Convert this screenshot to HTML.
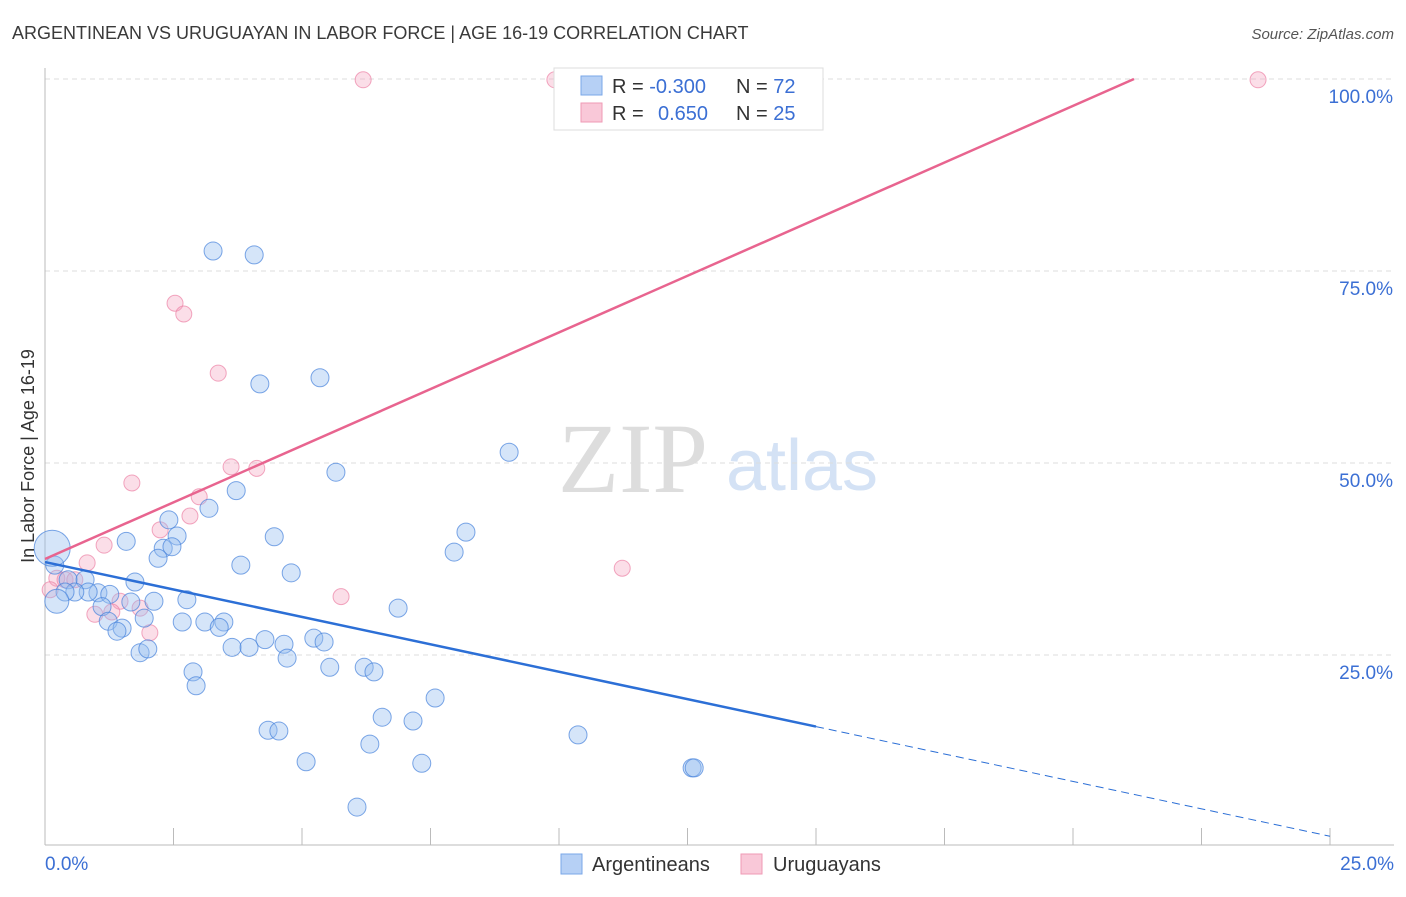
<!DOCTYPE html>
<html><head><meta charset="utf-8"><style>
body{margin:0;background:#fff;font-family:"Liberation Sans",sans-serif;}
svg text{font-family:"Liberation Sans",sans-serif;}
</style></head><body>
<svg id="chart" width="1406" height="892">
<text x="12" y="39" font-size="18" fill="#3a3a3a">ARGENTINEAN VS URUGUAYAN IN LABOR FORCE | AGE 16-19 CORRELATION CHART</text>
<text x="1394" y="39" font-size="15" fill="#555" font-style="italic" text-anchor="end">Source: ZipAtlas.com</text>
<g>
<text x="633" y="492" font-size="100" fill="#ddd" text-anchor="middle" style="font-family:'Liberation Serif',serif">ZIP</text>
<text x="802" y="490" font-size="72" fill="#d4e2f5" text-anchor="middle">atlas</text>
</g>
<g id="grid"></g>
<g id="axes"></g>
<g id="marks"></g>
<text transform="translate(34,456) rotate(-90)" font-size="18" fill="#333" text-anchor="middle">In Labor Force | Age 16-19</text>
<g>
<rect x="554" y="68" width="269" height="62" fill="#fff" stroke="#ddd"/>
<rect x="581" y="76" width="21" height="19" fill="#b6d0f5" stroke="#7aa7e8"/>
<rect x="581" y="103" width="21" height="19" fill="#f9c8d8" stroke="#ef9ab5"/>
<text x="612" y="93" font-size="20" fill="#333">R = <tspan fill="#3b6fd4">-0.300</tspan></text>
<text x="736" y="93" font-size="20" fill="#333">N = <tspan fill="#3b6fd4">72</tspan></text>
<text x="612" y="120" font-size="20" fill="#333">R = <tspan fill="#3b6fd4" x="658">0.650</tspan></text>
<text x="736" y="120" font-size="20" fill="#333">N = <tspan fill="#3b6fd4">25</tspan></text>
</g>
<g>
<rect x="561" y="854" width="21" height="20" fill="#b6d0f5" stroke="#7aa7e8"/>
<text x="592" y="871" font-size="20" fill="#333">Argentineans</text>
<rect x="741" y="854" width="21" height="20" fill="#f9c8d8" stroke="#ef9ab5"/>
<text x="773" y="871" font-size="20" fill="#333">Uruguayans</text>
</g>
</svg>
<script>
const blueX=[3.27,4.07,4.18,5.35,5.66,9.03,3.72,3.19,2.41,1.58,2.57,2.30,2.47,2.20,4.46,8.19,7.96,3.81,4.79,1.75,0.19,0.45,0.78,1.03,1.26,0.84,0.58,0.39,1.11,1.67,2.12,2.76,0.23,1.23,1.93,1.50,1.40,2.67,3.11,3.48,3.39,6.87,4.28,4.65,5.23,5.43,3.64,3.97,1.85,2.00,4.71,2.88,2.94,5.54,6.21,6.40,7.59,6.56,7.16,4.34,4.55,10.37,6.32,5.08,7.33,12.59,12.63,6.07,0.14];
const blueY=[77.6,77.1,60.3,61.1,48.8,51.4,46.4,44.1,42.6,39.8,40.5,38.9,39.1,37.6,40.4,41.0,38.4,36.7,35.7,34.5,36.7,34.8,34.8,33.1,32.9,33.2,33.2,33.2,31.3,31.9,32.0,32.2,32.0,29.4,29.8,28.5,28.1,29.3,29.3,29.3,28.6,31.1,27.0,26.4,27.2,26.7,26.0,26.0,25.3,25.8,24.6,22.8,21.0,23.4,23.4,22.8,19.4,16.9,16.4,15.2,15.1,14.6,13.4,11.1,10.9,10.3,10.3,5.2,38.9];
const blueSize=[9,9,9,9,9,9,9,9,9,9,9,9,9,9,9,9,9,9,9,9,9,9,9,9,9,9,9,9,9,9,9,9,12,9,9,9,9,9,9,9,9,9,9,9,9,9,9,9,9,9,9,9,9,9,9,9,9,9,9,9,9,9,9,9,9,9,9,9,18];
const pinkX=[6.19,9.92,23.6,2.53,2.70,3.37,3.62,4.12,1.69,3.00,2.24,2.82,1.15,0.82,11.23,5.76,0.23,0.39,0.10,1.46,1.30,0.97,1.85,2.04,0.58];
const pinkY=[99.9,99.9,99.9,70.8,69.4,61.7,49.5,49.3,47.4,45.6,41.3,43.1,39.3,37.0,36.3,32.6,35.0,34.8,33.5,32.0,30.6,30.3,31.1,27.9,34.8];
const yTicks=[100,75,50,25];
const yTickLabels=["100.0%","75.0%","50.0%","25.0%"];
const xTicks=[0,2.5,5,7.5,10,12.5,15,17.5,20,22.5,25];
const blueTrend=[37.1,1.4];
const pinkTrend=[37.5,2.95];
const NS="http://www.w3.org/2000/svg";
const X=v=>45+v/25*1285, Y=v=>847-v*7.68;
function mk(t,a,p){const e=document.createElementNS(NS,t);for(const k in a)e.setAttribute(k,a[k]);p.appendChild(e);return e;}
const grid=document.getElementById('grid'),axes=document.getElementById('axes'),marks=document.getElementById('marks');
yTicks.forEach((t,i)=>{
 const l=mk('line',{x1:45,x2:1394,y1:Y(t),y2:Y(t),stroke:'#ddd','stroke-dasharray':'5,4'},grid);
 
 
 const tx=mk('text',{x:1393,y:Y(t)+24,'font-size':19,fill:'#3b6fd4','text-anchor':'end'},axes);
 tx.textContent=yTickLabels[i];
 
 
});
const ya=mk('line',{x1:45,x2:45,y1:68,y2:845,stroke:'#bbb'},axes);


const xa=mk('line',{x1:45,x2:1394,y1:845,y2:845,stroke:'#bbb'},axes);


xTicks.forEach(t=>{
 const l=mk('line',{x1:X(t),x2:X(t),y1:828,y2:845,stroke:'#bbb'},axes);
 
 
});
const x0=mk('text',{x:45,y:870,'font-size':19,fill:'#3b6fd4'},axes);x0.textContent='0.0%';


const x1=mk('text',{x:1394,y:870,'font-size':19,fill:'#3b6fd4','text-anchor':'end'},axes);x1.textContent='25.0%';


pinkX.forEach((x,i)=>{
 const c=mk('circle',{cx:X(x),cy:Y(pinkY[i]),r:8,fill:'rgba(244,160,190,0.35)',stroke:'rgba(236,130,165,0.7)'},marks);
 
 
});
blueX.forEach((x,i)=>{
 const c=mk('circle',{cx:X(x),cy:Y(blueY[i]),r:blueSize[i],fill:'rgba(150,190,240,0.4)',stroke:'rgba(70,130,220,0.7)'},marks);
 
 
});
const bAt=x=>blueTrend[0]+(blueTrend[1]-blueTrend[0])*x/25;
const b1=mk('line',{x1:X(0),y1:Y(bAt(0)),x2:X(15),y2:Y(bAt(15)),stroke:'#2c6fd6','stroke-width':2.5},marks);


const b2=mk('line',{x1:X(15),y1:Y(bAt(15)),x2:X(25),y2:Y(bAt(25)),stroke:'#2c6fd6','stroke-width':1,'stroke-dasharray':'8,5'},marks);


const pEnd=(100-pinkTrend[0])/pinkTrend[1];
const p1=mk('line',{x1:X(0),y1:Y(pinkTrend[0]),x2:X(pEnd),y2:Y(100),stroke:'#e8648f','stroke-width':2.5},marks);


</script>
</body></html>
